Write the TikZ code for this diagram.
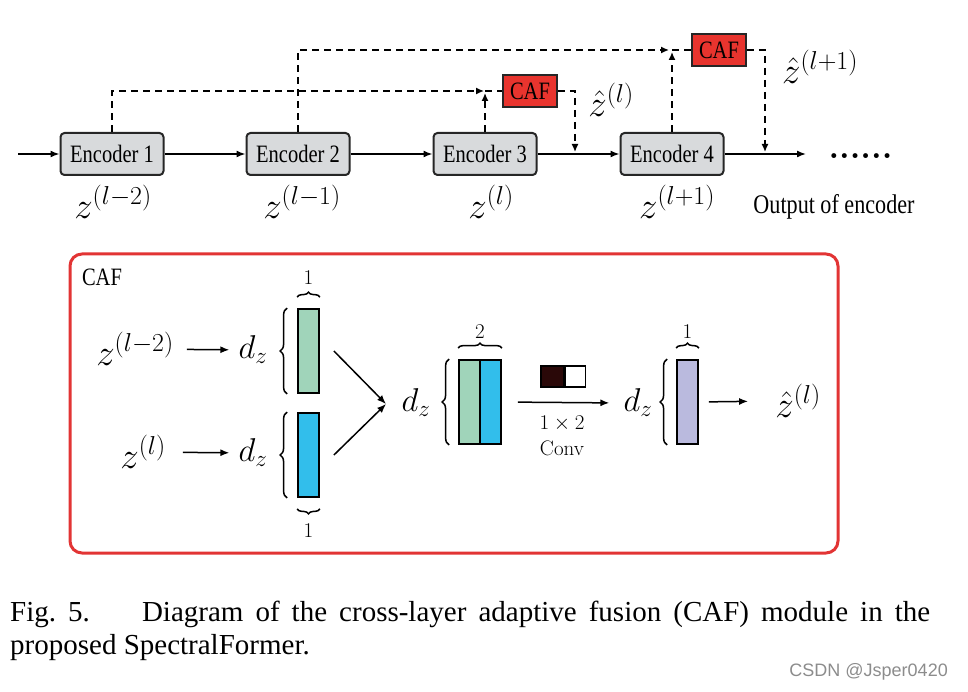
\RequirePackage{fix-cm}
\documentclass[tikz,border=0pt]{standalone}
\usepackage{fontspec}
\newfontfamily\encfont[FakeStretch=0.82]{Liberation Serif}
\newfontfamily\capfont{Liberation Serif}
\newfontfamily\wmfont{Liberation Sans}
\usetikzlibrary{arrows.meta,decorations.pathreplacing}
\definecolor{cafred}{RGB}{232,52,46}
\definecolor{framered}{RGB}{226,52,52}
\definecolor{encgray}{RGB}{216,218,220}
\definecolor{vgreen}{RGB}{160,212,186}
\definecolor{vblue}{RGB}{50,190,235}
\definecolor{vpurple}{RGB}{186,186,222}
\definecolor{kdark}{RGB}{42,8,8}
\tikzset{
 encoder/.style={draw=black!85,line width=2pt,fill=encgray,rounded corners=4pt,minimum width=103pt,minimum height=42pt,inner sep=0pt,font=\encfont\fontsize{25}{25}\selectfont},
 cafbox/.style={draw=black!85,line width=1.6pt,fill=cafred,minimum width=54pt,minimum height=32pt,inner sep=0pt,font=\encfont\fontsize{25}{25}\selectfont},
 flow/.style={line width=1.5pt,-{Latex[length=9pt,width=7pt]}},
 skip/.style={line width=1.4pt,dash pattern=on 7pt off 5pt},
 tip/.style={-{Latex[length=8pt,width=7pt]}},
 lbl/.style={font=\fontsize{37}{37}\selectfont,inner sep=1pt},
 dlbl/.style={font=\fontsize{33}{33}\selectfont,inner sep=1pt},
 num/.style={font=\fontsize{21}{21}\selectfont},
 vec/.style={draw=black,line width=1.8pt,minimum width=21pt,minimum height=84pt,inner sep=0pt},
 brc/.style={decorate,decoration={brace,amplitude=7pt},line width=1.5pt},
 sbrc/.style={decorate,decoration={brace,amplitude=5pt},line width=1.5pt},
}
\begin{document}
\begin{tikzpicture}[x=1pt,y=-1pt]
 \useasboundingbox (0,0) rectangle (968,692);
 % encoder chain
 \foreach \i/\x in {1/112,2/298,3/485,4/672}{\node[encoder] (enc\i) at (\x,154) {Encoder \i};}
 \coordinate (in) at (18,154); \coordinate (out) at (806,154);
 \draw[flow] (in) -- (enc1);
 \foreach \a/\b in {1/2,2/3,3/4}{\draw[flow] (enc\a) -- (enc\b);}
 \draw[flow] (enc4) -- (out);
 \node[anchor=base west,font=\bfseries\fontsize{34}{34}\selectfont] (dots) at (825,159) {......};
 \foreach \n/\x/\s in {1/113/l-2,2/302/l-1,3/491/l,4/677/l+1}{\node[lbl] (z\n) at (\x,202) {$z^{(\s)}$};}
 \node[font=\encfont\fontsize{27}{27}\selectfont] (outlbl) at (834,207) {Output of encoder};
 % skip connections
 \node[cafbox] (caf1) at (530,91) {CAF}; \node[cafbox] (caf2) at (719,50) {CAF};
 \coordinate (j1) at (enc3.north |- caf1.west); \coordinate (j2) at (enc4.north |- caf2.west);
 \coordinate (m1) at (575,152); \coordinate (m2) at (765,152);
 \draw[skip,tip] (enc1.north) |- ([xshift=-1pt]j1); \draw[skip,tip] (enc3.north) -- ([yshift=-2pt]j1);
 \draw[skip] (j1) -- (caf1.west); \draw[skip,tip] (caf1.east) -| (m1);
 \draw[skip,tip] (enc2.north) |- ([xshift=-3pt]j2); \draw[skip,tip] (enc4.north) -- ([yshift=-2pt]j2);
 \draw[skip] (j2) -- (caf2.west); \draw[skip,tip] (caf2.east) -| (m2);
 \node[lbl] (zh1) at (611,100) {$\hat{z}^{(l)}$}; \node[lbl] (zh2) at (820,67) {$\hat{z}^{(l+1)}$};
 % CAF module
 \draw[framered,line width=3pt,rounded corners=12pt] (70,254) rectangle (838,553);
 \node[font=\encfont\fontsize{25}{25}\selectfont] (caftitle) at (102,277) {CAF};
 \node[lbl] (x1) at (135,349) {$z^{(l-2)}$}; \node[lbl] (x2) at (143,452) {$z^{(l)}$};
 \node[dlbl] (d1) at (253,350) {$d_z$}; \node[dlbl] (d2) at (253,453) {$d_z$};
 \draw[flow,shorten <=12pt,shorten >=8pt] (x1) -- (d1); \draw[flow,shorten <=16pt,shorten >=8pt] (x2) -- (d2);
 \node[vec,fill=vgreen] (v1) at (308.5,351) {}; \node[vec,fill=vblue] (v2) at (308.5,455) {};
 \draw[brc] ([xshift=-10pt]v1.south west) -- ([xshift=-10pt]v1.north west);
 \draw[brc] ([xshift=-10pt]v2.south west) -- ([xshift=-10pt]v2.north west);
 \draw[sbrc] ([yshift=11pt]v1.north west) -- ([yshift=11pt]v1.north east) node[num,midway,above=9pt] {1};
 \draw[sbrc] ([yshift=-11pt]v2.south east) -- ([yshift=-11pt]v2.south west) node[num,midway,below=11pt] {1};
 \coordinate (fuse) at (386,404);
 \draw[flow] ([xshift=14pt]v1.east) -- (fuse); \draw[flow] ([xshift=14pt]v2.east) -- (fuse);
 \node[dlbl] (d3) at (416,403) {$d_z$};
 \node[vec,fill=vgreen] (v3a) at (469.5,402) {}; \node[vec,fill=vblue] (v3b) at (490.5,402) {};
 \draw[brc] ([xshift=-9pt]v3a.south west) -- ([xshift=-9pt]v3a.north west);
 \draw[sbrc] ([yshift=11pt]v3a.north west) -- ([yshift=11pt]v3b.north east) node[num,midway,above=6pt] {2};
 \node[draw=black,line width=1.6pt,fill=kdark,minimum width=23pt,minimum height=21pt,inner sep=0pt] (k1) at (552.5,376.5) {};
 \node[draw=black,line width=1.6pt,fill=white,minimum width=20pt,minimum height=21pt,inner sep=0pt,anchor=west] (k2) at (k1.east) {};
 \node[dlbl] (d4) at (638,403) {$d_z$};
 \draw[flow,shorten <=16pt,shorten >=13pt] (v3b.east) -- (d4.west);
 \node[num] (ksz) at (562,424) {$1\times2$}; \node[num] (conv) at (562,448) {Conv};
 \node[vec,fill=vpurple] (v4) at (687.5,402) {};
 \draw[brc] ([xshift=-9pt]v4.south west) -- ([xshift=-9pt]v4.north west);
 \draw[sbrc] ([yshift=11pt]v4.north west) -- ([yshift=11pt]v4.north east) node[num,midway,above=6pt] {1};
 \node[lbl] (zh3) at (798,401) {$\hat{z}^{(l)}$};
 \draw[flow,shorten <=10pt,shorten >=26pt] (v4.east) -- (zh3.west);
 % caption
 \node[anchor=base west,inner sep=0pt,font=\capfont\fontsize{29}{29}\selectfont] (cap1) at (10,621) {\makebox[920pt][s]{Fig.~5.\hspace{28pt} Diagram of the cross-layer adaptive fusion (CAF) module in the}};
 \node[anchor=base west,inner sep=0pt,font=\capfont\fontsize{29}{29}\selectfont] (cap2) at (10,654) {proposed SpectralFormer.};
 \node[anchor=base east,inner sep=0pt,text=black!45,font=\wmfont\fontsize{18}{18}\selectfont] (wm) at (948,676) {CSDN @Jsper0420};
\end{tikzpicture}
\end{document}
